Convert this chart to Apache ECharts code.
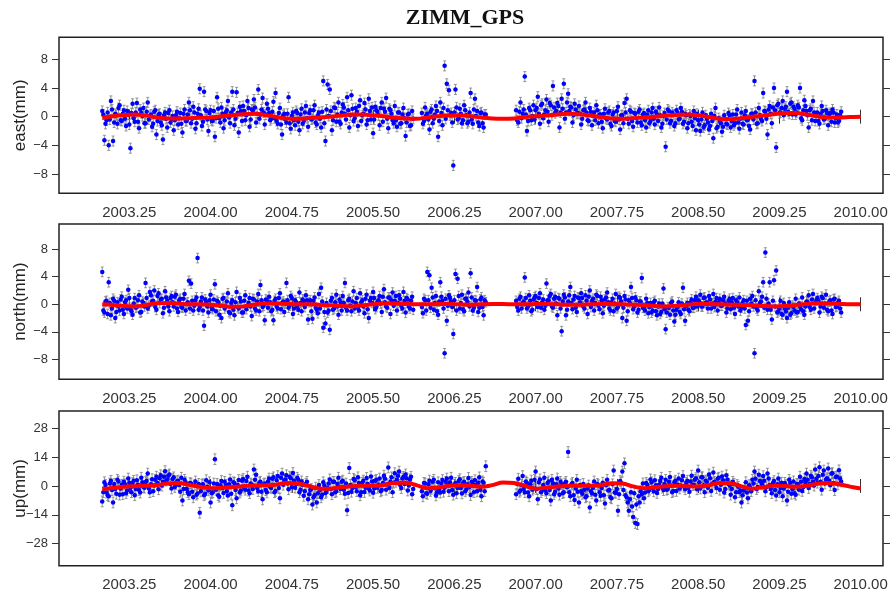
<!DOCTYPE html>
<html><head><meta charset="utf-8">
<script src="https://cdn.jsdelivr.net/npm/echarts@6/dist/echarts.min.js"></script>
<style>html,body{margin:0;padding:0;background:#fff}#c{width:890px;height:598px}</style>
</head><body><div id="c"></div>
<script>
// ---- data ----
const titleText = 'ZIMM_GPS';
const panelNames = ['east(mm)', 'north(mm)', 'up(mm)'];
const xTicks = [2003.25, 2004.00, 2004.75, 2005.50, 2006.25, 2007.00, 2007.75, 2008.50, 2009.25, 2010.00];
const eastTicks = [-8, -4, 0, 4, 8];
const northTicks = [-8, -4, 0, 4, 8];
const upTicks = [-28, -14, 0, 14, 28];

// observations: set A sampled every 0.02 yr from 2003.00, set B every 0.02 yr from 2003.01 (null = no data)
const obsStartA = 2003.00, obsStartB = 2003.01, obsStep = 0.02;
const eastValues = [
 0.8,-3.3,-0.5,-4.0,2.2, -3.4,0.4,-1.0,1.6,-0.6, 0.9,-1.3,0.3,-4.4,1.8, -0.7,1.9,-1.6,0.5,1.2,
 -0.9,2.0,0.1,-1.4,0.7, -2.5,0.3,-0.8,-3.2,0.6, -1.5,0.9,-0.4,-1.9,0.2, -1.1,0.5,-2.2,1.0,-0.6,
 2.0,-0.9,1.4,-1.7,0.4, 3.9,-1.3,3.5,0.8,-2.0, 0.9,-0.6,-2.8,2.7,-0.2, 1.3,-1.6,0.6,2.2,-0.9,
 3.5,-1.2,3.4,-2.2,0.8, 1.5,-0.5,2.2,-1.4,1.0, 2.4,-0.8,3.8,0.3,2.6, -1.1,1.8,0.5,-0.3,2.1,
 3.3,-1.0,1.2,-2.5,0.4, -0.8,2.7,-1.7,0.6,-1.2, 0.5,-1.9,1.1,-0.6,1.5, -1.4,0.9,-0.3,1.6,-1.1,
 0.6,-1.5,5.0,-3.4,4.5, 3.8,-1.9,1.3,-0.7,2.0, -1.0,1.7,0.4,2.7,-1.5, 3.0,-0.6,1.2,-1.3,2.3,
 0.2,1.9,-1.1,2.5,-0.4, -2.3,1.4,0.7,-1.2,2.0, 1.1,2.6,-1.6,0.9,-0.5, 1.5,-1.4,0.6,-0.9,1.2,
 -2.7,0.3,-1.3,0.8,null, null,null,null,-1.0,1.3, 0.4,-1.8,1.0,-0.3,1.5, -2.8,2.0,-1.2,7.1,4.6,
 3.7,0.5,-6.8,3.8,-0.4, 1.1,-0.9,1.6,0.2,-0.7, 3.3,-1.0,2.5,0.8,-1.3, 0.6,-1.5,0.3,null,null,
 null,null,null,null,null, null,null,null,null,null, null,0.9,-0.8,2.0,0.4, 5.6,-2.0,1.2,-0.5,1.6,
 0.9,2.8,-1.0,1.8,0.3, 2.4,-0.7,1.6,4.3,0.5, 1.9,-1.5,2.5,4.6,0.6, 3.2,1.4,-0.8,1.8,0.4,
 1.5,-1.1,0.9,2.0,-0.5, 1.2,-1.2,0.6,1.6,-0.9, 0.3,-1.6,1.1,-0.4,0.8, -1.3,0.6,-0.7,1.4,-1.8,
 0.2,1.9,2.5,-1.0,0.7, -1.4,0.4,-0.8,1.0,-1.2, 0.5,-1.5,0.9,-0.6,1.2, -1.1,0.3,1.3,-1.5,0.1,
 -4.2,1.0,-0.9,0.6,-1.3, 0.9,-0.4,1.2,-1.0,0.4, -1.6,0.3,-0.7,0.8,-1.9, -0.5,-2.0,0.6,-1.2,-0.3,
 -1.8,0.4,-3.0,1.2,-1.4, -0.6,-2.1,0.2,-1.0,0.5, -1.5,0.3,-0.9,1.0,-1.7, 0.6,-1.1,0.8,-0.4,-1.8,
 0.4,5.0,-1.0,1.2,-0.3, 3.3,0.7,-2.5,1.5,-0.9, 4.0,-4.3,1.8,0.6,2.2, 1.1,3.5,0.4,2.0,1.4,
 0.3,1.6,4.0,-0.5,2.3, 0.8,-1.5,1.1,2.2,-0.6, 0.6,-1.0,1.5,-0.4,0.9, -1.2,0.5,1.0,-0.8,0.3,
 -0.6,0.7
];
const eastValuesB = [
 0.3,-1.0,0.6,-0.4,1.0, -0.8,0.2,1.2,-0.5,0.4, -0.3,0.8,-1.1,0.5,-0.2, 0.6,-0.7,1.0,0.1,-0.9,
 0.7,-0.4,0.3,-1.0,0.9, -0.6,0.4,-1.2,0.2,-0.3, 0.5,-0.8,0.1,-0.5,0.7, -0.2,-1.0,0.4,-0.6,0.3,
 0.9,-0.3,0.6,-0.9,1.1, 0.2,-0.7,1.0,-0.4,0.5, -0.5,0.8,-0.2,1.1,-0.8, 0.4,-0.5,0.9,-0.1,0.6,
 1.0,-0.3,0.5,1.4,-0.6, 0.8,0.2,1.2,-0.4,0.9, 1.3,0.4,-0.3,1.0,0.6, 0.3,1.1,-0.5,0.7,-0.2,
 -0.6,0.5,-1.1,0.2,-0.4, 0.4,-0.9,0.1,-0.5,0.8, -0.7,0.3,-1.0,0.6,-0.2, 0.5,-0.4,0.9,-0.8,0.2,
 -0.3,0.7,-0.9,1.0,0.1, 0.8,-0.5,1.2,0.3,-0.7, 0.6,1.3,-0.4,0.9,0.2, 1.1,-0.2,0.7,1.5,-0.6,
 0.4,1.0,-0.5,0.8,1.3, -0.4,0.9,0.2,1.2,-0.7, 0.7,-0.3,1.1,0.4,-0.9, -0.5,0.6,-1.0,0.3,-0.2,
 -0.8,0.4,-1.2,-0.3,null, null,null,0.5,-0.6,0.2, -0.4,0.7,-0.9,0.3,0.8, -0.6,0.5,1.2,-0.3,0.9,
 0.2,-0.8,0.6,1.3,-0.2, 0.4,-0.5,0.9,-0.9,0.6, -0.4,1.0,0.1,-0.8,0.5, -0.9,0.3,null,null,null,
 null,null,null,null,null, null,null,null,null,null, null,-0.5,0.7,-0.2,1.0, 0.3,-0.6,0.9,0.1,-0.4,
 1.2,0.4,1.6,-0.2,0.9, 0.7,1.9,0.2,1.3,0.8, 1.5,0.6,1.1,-0.3,2.0, 0.8,1.3,0.2,1.0,0.5,
 0.4,-0.3,1.0,0.6,-0.6, 0.7,0.1,-0.5,0.9,0.3, -0.7,0.4,-0.2,0.6,-1.0, 0.3,-0.6,0.8,-0.4,0.2,
 -0.9,0.6,-0.3,0.9,-0.6, 0.5,-0.2,0.7,-0.8,0.3, -0.5,0.3,-0.9,0.6,-0.3, 0.7,-0.6,0.2,-1.0,0.5,
 -0.4,0.8,-0.6,0.3,-0.9, 0.5,-0.3,0.7,-0.7,0.2, -0.9,0.1,-1.3,-0.2,0.4, -1.1,-0.4,-1.5,0.2,-0.8,
 -1.3,-0.6,0.1,-1.6,-0.2, -0.9,-1.4,-0.3,-1.1,0.2, -0.6,-1.2,0.3,-0.8,-0.3, -1.0,0.2,-0.5,-1.3,0.4,
 -0.4,0.6,-0.9,0.2,-0.6, 0.8,-0.3,1.0,0.4,1.3, 0.9,1.6,0.5,1.2,0.2, 1.4,0.7,1.8,0.3,1.1,
 0.6,1.3,-0.2,0.9,1.5, 0.2,0.9,-0.5,0.6,0.1, -0.6,0.4,0.8,-0.3,0.5, 0.3,-0.7,0.6,-0.2,-0.8,
 0.2
];
const northValues = [
 4.7,-1.2,0.5,3.2,-1.6, 0.8,-2.0,0.3,-0.9,1.1, -1.4,0.6,2.1,-0.7,-1.5, 0.9,-0.4,1.3,-1.1,0.2,
 3.1,-0.6,1.8,0.4,2.0, -0.8,1.6,0.7,-1.3,1.9, 0.5,-1.0,1.2,-0.3,1.4, -1.1,0.8,-0.5,1.5,0.1,
 3.4,3.0,-0.9,0.6,6.7, -0.4,1.0,-3.1,0.3,-1.2, 1.4,-0.7,2.9,0.5,-1.5, -2.0,0.9,-0.3,1.6,-1.3,
 0.6,-1.6,1.8,-0.6,0.4, -1.2,1.3,-0.2,0.9,-1.7, 0.7,-0.9,1.5,2.8,-0.4, -2.3,0.5,1.1,-1.0,-2.3,
 0.8,-0.6,1.6,0.2,-1.1, 3.1,-0.5,1.2,-1.4,0.6, -0.3,1.7,-1.0,0.4,1.3, -2.2,0.6,-2.1,1.0,-0.8,
 1.5,2.4,-3.4,-2.8,-1.2, -3.7,0.9,-0.6,1.4,-1.5, 0.3,1.2,3.1,-0.9,0.8, -1.0,1.9,0.2,-0.5,1.6,
 0.6,-1.3,1.4,-2.0,0.9, 1.8,-0.7,0.4,1.2,-1.1, 2.2,-0.3,1.0,-1.4,1.7, 0.5,-0.9,1.3,-0.2,1.8,
 -1.2,0.7,-0.6,1.1,null, null,null,null,-1.3,0.6, 4.7,4.2,2.4,-0.8,1.2, -1.5,3.2,0.5,-7.1,-2.4,
 1.3,0.4,-4.3,4.4,3.7, -0.6,1.4,-1.0,0.8,1.7, 4.5,-0.9,0.6,2.5,-0.5, 1.0,-1.6,0.3,null,null,
 null,null,null,null,null, null,null,null,null,null, null,0.5,-0.9,1.1,0.2, 3.9,-0.6,1.3,-1.0,0.7,
 1.2,-0.4,1.6,0.3,-0.8, 3.0,0.6,1.5,-0.5,1.1, -1.6,0.8,-3.9,1.4,-1.6, 0.4,2.5,-0.7,1.2,-1.1,
 0.9,1.6,-0.3,1.3,-1.4, 2.0,0.5,-0.9,1.4,-0.2, 1.1,-1.3,0.7,1.7,-0.6, 0.3,-1.0,1.5,-0.4,0.9,
 -2.0,1.2,-2.4,0.6,2.5, -0.7,1.0,-1.2,0.4,3.8, -0.5,0.8,-1.3,0.2,-0.9, 0.5,-1.6,0.1,-1.1,2.3,
 -3.6,-0.4,-1.5,0.4,-2.5, -0.8,0.3,-1.4,2.4,-2.4, 0.2,-1.0,0.7,-0.5,1.1, 0.6,1.4,-0.3,1.0,0.3,
 1.2,-0.6,1.5,0.4,-0.9, 0.8,-0.2,1.1,-1.2,0.5, -0.7,0.9,-1.4,0.3,1.0, -0.5,0.6,-3.0,-2.4,0.8,
 1.2,-7.1,-0.6,1.9,0.4, 3.2,7.5,-0.8,3.2,-2.2, 3.5,4.9,-1.0,0.5,-1.5, -0.6,-2.0,0.3,-1.3,-0.4,
 0.8,-1.1,-0.3,1.0,-1.5, 0.4,1.3,-0.8,1.5,0.2, 0.9,-1.2,1.1,-0.5,1.4, -1.0,0.6,-1.4,0.8,-0.3,
 0.5,-1.2
];
const northValuesB = [
 -0.9,0.4,-1.4,0.2,-0.6, 0.5,-1.1,-0.3,0.7,-0.8, 0.3,-0.6,0.9,-1.0,0.1, -0.5,0.6,-1.2,0.4,-0.3,
 0.9,-0.2,1.3,0.5,-0.4, 1.2,0.2,0.8,-0.5,1.0, -0.3,0.9,0.3,1.1,-0.6, 0.6,-0.4,0.8,-0.9,0.3,
 -0.6,0.5,-0.2,1.0,-0.8, 0.4,-0.9,0.7,-0.3,0.6, -0.5,0.7,-1.0,0.3,-0.2, 0.8,-0.6,0.4,-1.1,0.2,
 -0.8,0.3,-0.4,0.9,-1.2, 0.5,-0.7,0.2,-0.3,0.8, -0.6,0.4,-1.0,0.6,-0.2, 0.7,-0.5,0.3,-0.8,0.5,
 -0.3,0.9,-0.7,0.4,0.1, 0.6,-0.2,0.9,-0.6,0.3, -0.8,0.2,0.7,-0.4,0.6, 0.3,-1.0,0.5,-0.5,-1.3,
 -0.6,0.4,-1.1,0.2,-0.9, 0.5,-0.8,0.3,-0.3,0.7, -0.9,0.2,-0.5,0.6,-0.2, 0.4,-0.6,0.9,-0.9,0.3,
 -0.3,0.8,-0.7,0.5,0.2, 0.9,-0.4,0.6,0.1,1.1, 0.3,-0.5,1.0,0.6,-0.2, 1.2,0.2,0.8,-0.6,0.5,
 0.9,-0.3,0.5,-0.8,null, null,null,-0.4,0.8,-0.9, 0.6,-0.5,1.0,0.2,-1.0, 0.4,1.1,-0.6,0.8,-0.2,
 0.9,-0.4,0.6,-0.9,1.2, 0.2,-0.7,0.8,0.4,-0.3, 1.0,-0.5,0.5,-1.1,0.7, -0.4,0.6,null,null,null,
 null,null,null,null,null, null,null,null,null,null, null,-0.4,0.8,-0.6,0.4, 0.9,-0.3,0.5,-0.8,1.0,
 0.2,0.9,-0.5,0.7,-0.2, 0.6,1.2,-0.3,0.8,0.1, 0.9,-0.6,0.4,1.0,-0.8, 1.3,0.2,0.7,-0.5,1.0,
 0.3,0.9,-0.6,0.5,1.1, -0.4,0.8,0.2,1.2,-0.7, 0.6,-0.2,1.0,0.3,-0.9, 0.8,0.1,-0.6,1.1,0.4,
 -0.5,0.7,-1.0,0.2,0.9, -0.3,0.6,-0.8,0.4,-0.5, -0.9,0.2,-0.4,-1.2,0.3, -1.0,-0.3,-1.4,0.1,-0.7,
 -1.2,-0.5,0.2,-0.9,-1.5, -0.4,-1.1,0.1,-0.7,-0.2, -0.8,0.3,-0.5,0.6,-0.3, 0.4,-0.3,0.9,0.2,-0.6,
 0.7,0.1,-0.4,0.9,0.3, -0.2,0.6,0.1,-0.6,0.8, 0.3,-0.5,0.6,-0.3,-0.9, 0.2,-0.6,0.5,-1.0,0.1,
 -0.3,0.6,-0.9,0.2,1.1, -0.5,0.8,0.1,-0.8,0.5, -0.3,-1.2,-0.6,-1.4,0.2, -1.0,-0.5,-1.5,-0.2,-0.9,
 -1.2,0.1,-0.7,-1.0,-0.3, 0.3,-0.4,0.7,-0.6,0.5, 0.6,-0.3,0.9,0.1,-0.8, 0.4,-0.9,0.7,-0.4,0.2,
 -0.6
];
const upValues = [
 -7.5,1.8,-3.2,-5.0,2.5, -8.0,-1.5,3.0,-4.2,0.6, 2.1,-3.5,3.6,-1.0,1.4, -4.5,2.8,-2.0,4.0,-0.5,
 1.9,6.0,-3.0,3.3,0.2, 4.5,-1.6,5.2,2.0,7.2, 3.1,5.6,-1.2,4.2,0.8, 2.6,-2.8,-7.0,3.0,-1.5,
 -4.0,1.2,-5.5,2.2,-3.6, -13.0,0.5,-4.5,2.8,-2.1, -8.0,-3.0,13.0,1.0,-5.2, 2.4,-3.4,0.6,-4.6,3.1,
 -9.4,1.5,-6.0,2.9,-2.2, 3.4,-1.8,4.5,-3.5,0.7, 8.0,5.5,-2.5,2.0,-6.5, 1.2,-3.1,3.6,-1.0,4.2,
 -2.4,4.8,-6.0,6.0,2.5, 5.2,-1.6,3.8,6.3,-0.8, 4.0,-3.0,2.2,-4.8,1.1, -6.5,-2.0,-9.0,-4.5,-8.0,
 0.5,-5.5,1.8,-3.4,-1.0, 3.2,-4.0,2.0,-2.6,4.0, -1.5,2.6,-3.8,-11.8,8.7, -2.8,3.4,-0.6,4.2,-4.5,
 1.6,-2.9,3.9,-1.2,4.6, -3.3,2.5,-0.9,3.6,-2.0, 5.0,-1.8,9.0,2.2,-3.0, 6.2,3.0,7.0,-1.0,4.4,
 5.6,-2.2,3.2,-4.0,null, null,null,null,-5.0,1.2, -3.8,2.6,-1.4,3.0,-4.6, 1.8,-3.2,2.9,-0.8,3.6,
 -2.5,4.0,-4.2,1.5,-1.0, 3.3,-3.6,2.0,-1.7,3.9, -4.4,1.0,2.8,-2.6,4.2, -5.0,1.6,9.6,null,null,
 null,null,null,null,null, null,null,null,null,null, null,-4.0,3.5,-2.2,4.8, -3.0,1.5,-5.0,2.6,-1.2,
 7.0,-6.5,3.2,-2.0,4.0, -3.5,2.2,-7.0,1.3,-2.8, 3.6,-4.2,0.8,-3.0,2.0, 16.5,-5.0,1.5,-6.8,3.0,
 -8.0,-2.5,1.0,-5.5,-1.2, -10.4,-3.6,2.2,-7.0,0.4, -4.8,1.6,-8.5,3.0,-2.0, -6.0,7.5,-3.3,-12.0,2.4,
 7.0,11.0,-5.5,-12.0,-3.0, -15.0,-18.0,-18.5,-8.0,-4.0, -6.0,1.5,-2.6,3.2,-1.0, 2.8,-3.4,0.6,4.0,-2.0,
 3.0,-1.5,4.4,-3.0,1.8, -2.4,3.6,0.2,4.8,-1.6, 2.5,-2.8,5.0,0.6,3.8, 7.5,-1.2,4.2,-3.0,2.0,
 5.6,-2.4,6.5,0.8,3.5, -1.8,4.6,-3.2,5.2,1.0, -4.2,2.0,-5.5,0.5,-3.0, -8.0,-2.2,1.8,-6.0,-0.8,
 3.0,7.0,-1.5,5.5,2.0, 4.8,-2.6,6.0,0.4,-3.5, 2.4,-4.6,3.6,-1.0,-5.0, 1.5,-7.0,3.0,-3.8,2.2,
 -4.2,0.8,4.5,-2.4,3.4, 6.0,-1.0,5.0,2.0,8.0, 1.6,9.1,-1.8,7.5,3.2, 8.5,0.4,6.2,-2.0,4.6,
 7.6,2.2
];
const upValuesB = [
 -3.0,0.5,-4.5,1.2,-2.0, 1.0,-3.8,2.2,-1.2,-4.0, 0.8,-2.2,1.6,-3.0,2.5, -1.5,0.6,-3.2,1.8,-0.8,
 2.4,-1.2,0.9,-2.5,3.0, 1.5,3.8,0.2,4.5,2.6, 5.0,1.0,3.4,-0.5,2.2, 0.5,4.0,-1.5,1.8,-3.0,
 1.4,-2.8,0.3,-4.2,1.0, -2.6,0.9,-3.8,-0.5,1.8, -3.5,1.2,-1.8,-4.5,0.4, -1.0,2.0,-2.6,0.8,-3.8,
 1.8,-2.0,0.5,-3.2,2.6, -0.8,2.4,-2.2,1.2,-1.5, 3.0,-1.0,1.6,-2.8,0.9, -2.0,2.2,-0.5,3.5,-3.0,
 2.8,-1.0,4.0,0.6,3.2, 1.2,4.5,-0.5,2.5,0.8, 3.0,-1.8,0.6,-2.5,2.0, -4.0,-1.5,-5.5,-0.8,-3.5,
 -2.0,-4.2,0.4,-2.8,1.2, -1.5,2.0,-3.0,1.0,-0.6, 2.0,-1.8,1.2,-3.4,0.5, -1.0,2.8,-2.5,1.4,-3.0,
 2.6,-0.8,1.0,-2.2,2.2, -1.2,3.0,0.6,-2.6,1.5, 3.5,0.8,-1.0,4.2,1.6, 2.0,5.0,0.5,3.6,1.0,
 3.8,0.2,4.5,-1.5,null, null,null,-2.5,1.5,-3.5, 0.8,-2.4,2.0,-1.0,-3.0, -1.6,1.2,-2.8,2.0,0.4,
 1.8,-2.0,0.6,-3.5,2.4, -1.0,1.5,-2.6,0.8,-0.5, 2.0,-3.0,0.5,1.6,-1.8, 2.2,-2.5,null,null,null,
 null,null,null,null,null, null,null,null,null,null, null,1.0,-2.8,0.6,-1.5, 2.2,-3.2,0.8,-1.8,3.0,
 -1.5,1.8,-3.0,0.5,-2.2, 1.5,-2.0,3.0,-4.0,0.8, -1.2,2.0,-3.5,1.2,-0.6, -3.0,0.8,-4.5,-1.2,-2.8,
 0.5,-3.8,-1.8,-5.0,0.2, -2.5,-0.8,-4.2,1.0,-3.0, -1.0,-4.5,0.4,-2.2,-5.5, 0.8,-3.2,-1.5,-4.0,1.5,
 -2.0,-4.5,-8.0,-6.5,-10.0, -3.5,-9.0,-5.0,-2.5,1.2, -3.2,0.6,-1.8,1.8,-2.6, 0.4,-1.5,2.4,-0.8,1.0,
 -1.8,2.0,0.2,-2.4,2.6, 0.6,-1.2,2.8,-0.4,1.5, -1.0,2.2,0.5,3.0,-1.6, 1.8,4.2,0.4,2.6,-0.8,
 3.8,1.2,2.0,-1.0,4.0, 0.6,2.8,-1.5,3.2,0.2, -1.5,1.0,-3.0,-0.4,-2.2, -4.5,-1.0,-3.2,0.4,-2.5,
 1.2,3.5,-0.5,2.4,0.8, 2.6,-0.6,3.6,-1.5,1.4, -2.0,0.8,-3.0,1.6,-1.2, 0.4,-2.8,1.6,-1.6,-3.5,
 1.0,-1.8,2.0,-0.6,1.8, 3.0,1.0,4.2,0.2,3.5, 4.8,2.0,5.5,1.2,3.8, 2.5,6.0,1.5,4.4,0.8,
 3.6
];
const eastSigma = 0.7, northSigma = 0.7, upSigma = 2.6;

// seasonal fit, every 0.1 yr from 2003.0 to 2010.0
const fitStart = 2003.0, fitStep = 0.1;
const eastFit = [-0.15,0.05,0.25,0.3,0.15,-0.1,-0.25,-0.25,-0.2,-0.15,
 -0.1,0.05,0.2,0.35,0.4,0.25,0.0,-0.25,-0.3,-0.2,
 -0.1,0.0,0.15,0.3,0.3,0.2,0.05,-0.15,-0.25,-0.3,
 -0.1,0.05,0.15,0.2,0.05,-0.1,-0.25,-0.3,-0.25,-0.05,
 0.05,0.15,0.3,0.4,0.35,0.15,-0.05,-0.25,-0.3,-0.2,
 -0.1,0.0,0.15,0.25,0.3,0.2,-0.05,-0.3,-0.35,-0.2,
 0.0,0.15,0.35,0.5,0.5,0.3,0.05,-0.1,-0.1,-0.05,0.0];
const northFit = [0.0,-0.1,-0.25,-0.3,-0.1,0.15,0.2,0.1,0.0,0.0,
 -0.05,-0.2,-0.35,-0.3,-0.05,0.1,0.1,0.05,0.0,0.0,
 -0.05,-0.15,-0.25,-0.3,-0.15,0.0,0.1,0.1,0.05,0.0,
 0.0,0.05,0.05,0.0,-0.05,0.0,0.05,0.05,0.0,0.0,
 0.05,0.05,0.0,-0.05,-0.05,0.0,0.05,0.05,0.0,-0.05,
 -0.1,-0.25,-0.3,-0.2,-0.05,0.05,0.05,0.0,-0.05,-0.1,
 -0.15,-0.25,-0.3,-0.25,-0.1,0.05,0.15,0.1,0.05,0.0,0.0];
const upFit = [-1.5,-1.0,-0.4,-0.1,0.1,0.4,1.2,1.4,0.6,-0.4,
 -1.1,-0.9,-0.5,-0.1,0.2,0.3,0.6,1.4,1.2,0.1,
 -1.2,-1.3,-0.6,-0.1,0.1,0.1,0.5,1.5,1.6,0.4,
 -1.1,-0.6,0.0,0.3,0.1,-0.4,0.4,1.7,1.4,0.2,
 -1.3,-0.8,-0.3,0.1,0.1,0.1,0.4,1.3,1.2,-0.2,
 -1.1,-0.6,-0.1,0.1,-0.1,-0.2,0.4,1.5,1.3,-0.2,
 -1.3,-0.6,0.1,0.0,-0.4,0.1,1.1,1.5,0.8,-0.3,-1.2];

// ---- build ----
const panels = [
  {name: panelNames[0], a: eastValues, b: eastValuesB, fit: eastFit, sig: eastSigma, ticks: eastTicks, min: -10.7, max: 11.09, top: 37.3, h: 156},
  {name: panelNames[1], a: northValues, b: northValuesB, fit: northFit, sig: northSigma, ticks: northTicks, min: -10.87, max: 11.64, top: 224, h: 155.3},
  {name: panelNames[2], a: upValues, b: upValuesB, fit: upFit, sig: upSigma, ticks: upTicks, min: -38.7, max: 36.4, top: 411, h: 154.7}
];
const X_MIN = 2002.601, X_MAX = 2010.206;
const grids = [], xAxes = [], yAxes = [], series = [];
const tickStyle = {color: '#333', width: 1};
const FONT = 'Liberation Sans, Arial, sans-serif';
panels.forEach((p, g) => {
  grids.push({left: 59, width: 824, top: p.top, height: p.h, show: true, borderColor: '#222', borderWidth: 1.5,
    backgroundColor: '#fff', containLabel: false, outerBoundsMode: 'none'});
  const baseX = {type: 'value', gridIndex: g, min: X_MIN, max: X_MAX, splitLine: {show: false}, axisLine: {show: false}};
  xAxes.push(Object.assign({}, baseX, {position: 'bottom',
    axisTick: {show: true, customValues: xTicks, length: 7, lineStyle: tickStyle},
    axisLabel: {show: true, customValues: xTicks, formatter: v => v.toFixed(2), fontSize: 15, color: '#333', margin: 12, fontFamily: FONT}}));
  xAxes.push(Object.assign({}, baseX, {position: 'top',
    axisTick: {show: true, customValues: xTicks, length: 7, lineStyle: tickStyle}, axisLabel: {show: false}}));
  const baseY = {type: 'value', gridIndex: g, min: p.min, max: p.max, splitLine: {show: false}, axisLine: {show: false}};
  yAxes.push(Object.assign({}, baseY, {position: 'left', name: p.name, nameLocation: 'middle', nameGap: 30, nameRotate: 90,
    nameMoveOverlap: false,
    nameTextStyle: {fontSize: 17, color: '#222', fontFamily: FONT},
    axisTick: {show: true, customValues: p.ticks, length: 7, lineStyle: tickStyle},
    axisLabel: {show: true, customValues: p.ticks, formatter: v => String(v).replace('-', '\u2212'), fontSize: 13, color: '#333', margin: 11, fontFamily: FONT}}));
  yAxes.push(Object.assign({}, baseY, {position: 'right',
    axisTick: {show: true, customValues: p.ticks, length: 7, lineStyle: tickStyle}, axisLabel: {show: false}}));

  const pts = [];
  p.a.forEach((v, i) => { if (v !== null) pts.push([+(obsStartA + i * obsStep).toFixed(3), v, p.sig]); });
  p.b.forEach((v, i) => { if (v !== null) pts.push([+(obsStartB + i * obsStep).toFixed(3), v, p.sig]); });
  const fitPts = p.fit.map((v, i) => [+(fitStart + i * fitStep).toFixed(2), v]);
  series.push({type: 'custom', xAxisIndex: 2 * g, yAxisIndex: 2 * g, data: pts, z: 2, silent: true,
    encode: {x: 0, y: 1},
    renderItem: function (params, api) {
      const x = api.value(0), y = api.value(1), e = api.value(2);
      const a = api.coord([x, y + e]), b = api.coord([x, y - e]);
      const st = {stroke: 'rgba(125,125,125,0.8)', lineWidth: 1};
      return {type: 'group', children: [
        {type: 'line', shape: {x1: a[0], y1: a[1], x2: b[0], y2: b[1]}, style: st},
        {type: 'line', shape: {x1: a[0] - 1.5, y1: a[1], x2: a[0] + 1.5, y2: a[1]}, style: st},
        {type: 'line', shape: {x1: b[0] - 1.5, y1: b[1], x2: b[0] + 1.5, y2: b[1]}, style: st}
      ]};
    }});
  series.push({type: 'scatter', xAxisIndex: 2 * g, yAxisIndex: 2 * g, data: pts.map(d => [d[0], d[1]]),
    symbol: 'circle', symbolSize: 4.5, itemStyle: {color: '#0000ff', opacity: 1}, z: 3, silent: true});
  series.push({type: 'line', xAxisIndex: 2 * g, yAxisIndex: 2 * g, data: fitPts, smooth: 0.4, symbol: 'none',
    lineStyle: {color: '#ff0000', width: 4}, z: 4, silent: true});
});

const chart = echarts.init(document.getElementById('c'), null, {renderer: 'canvas'});
chart.setOption({
  animation: false,
  backgroundColor: '#fff',
  title: {text: titleText, left: 460, top: 2, textAlign: 'center',
    textStyle: {fontFamily: 'Liberation Serif, Times New Roman, serif', fontWeight: 'bold', fontSize: 22, color: '#111'}},
  grid: grids, xAxis: xAxes, yAxis: yAxes, series: series
});
</script></body></html>
